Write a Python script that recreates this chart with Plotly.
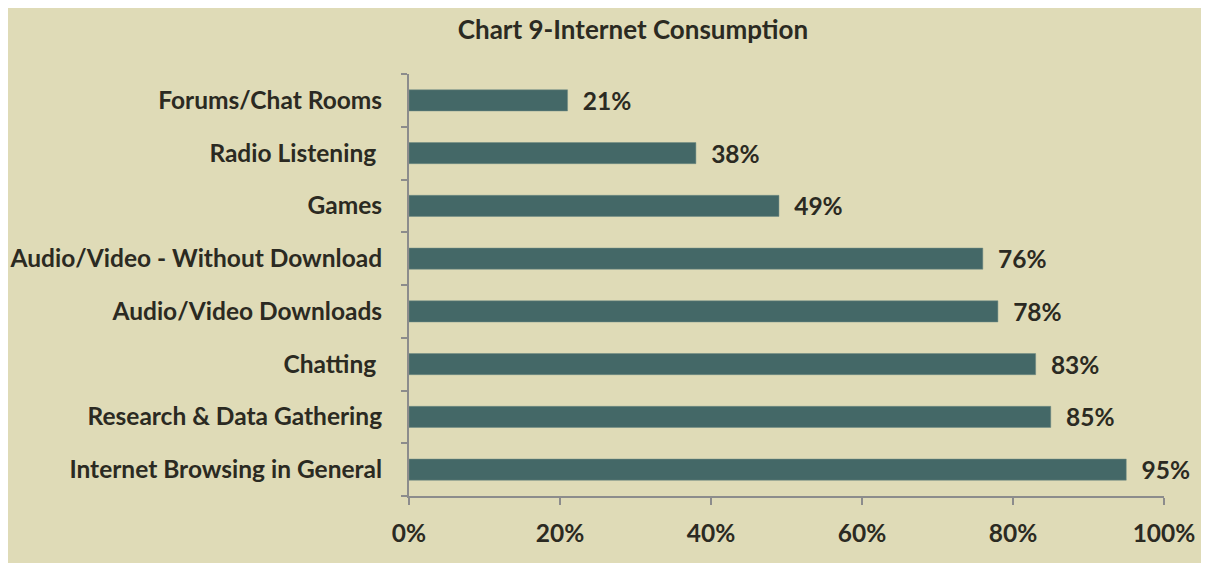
import plotly.graph_objects as go

categories = [
    "Internet Browsing in General",
    "Research & Data Gathering",
    "Chatting ",
    "Audio/Video Downloads",
    "Audio/Video - Without Download",
    "Games",
    "Radio Listening ",
    "Forums/Chat Rooms",
]
values = [95, 85, 83, 78, 76, 49, 38, 21]
labels = [f"\u2002{v}%" for v in values]
x_ticks = [0, 20, 40, 60, 80, 100]
x_tick_labels = [f"{t}%" for t in x_ticks]

BG = "#DFDBB7"
BAR = "#446867"
TXT = "#2B2A22"
AX = "#8C8C8C"
FONT = "Lato"

W, H = 1209, 563
L, R, T, B = 401, 53, 66, 75

fig = go.Figure(go.Bar(
    y=categories, x=values, orientation="h",
    marker=dict(color=BAR, line=dict(color="#6F8A84", width=0.5)),
    text=labels, textposition="outside", cliponaxis=False, constraintext="none",
    textfont=dict(family=FONT, size=24.5, color=TXT, weight="bold"),
))

fig.update_layout(
    width=W, height=H,
    margin=dict(l=L, r=R, t=T, b=B, pad=0, autoexpand=False),
    paper_bgcolor=BG, plot_bgcolor=BG,
    bargap=0.6, showlegend=False,
    title=dict(text="<b>Chart 9-Internet Consumption</b>", x=625 / W, xanchor="center",
               y=1 - 22 / H, yanchor="middle",
               font=dict(family=FONT, size=26, color=TXT)),
    font=dict(family=FONT, color=TXT),
    xaxis=dict(range=[0, 100], tickvals=x_ticks, ticktext=x_tick_labels, automargin=False,
               showgrid=False, zeroline=False, showline=True, linecolor=AX, linewidth=2,
               ticks="outside", ticklen=7, tickcolor=AX, tickwidth=2,
               ticklabelstandoff=8,
               tickfont=dict(family=FONT, size=24.5, color=TXT, weight="bold")),
    yaxis=dict(categoryorder="array", categoryarray=categories, automargin=False,
               showgrid=False, zeroline=False, showline=True, linecolor=AX, linewidth=2,
               ticks="outside", ticklen=6, tickcolor=AX, tickwidth=2, tickson="boundaries",
               ticklabelstandoff=20,
               tickfont=dict(family=FONT, size=24.5, color=TXT, weight="bold")),
)

fig.write_html("out.html")
